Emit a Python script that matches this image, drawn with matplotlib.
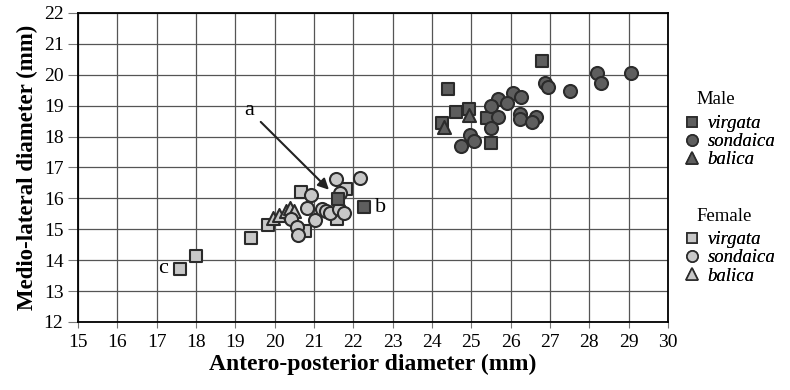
import matplotlib
matplotlib.use("Agg")
import matplotlib.pyplot as plt
from matplotlib.lines import Line2D

plt.rcParams["font.family"] = ["Liberation Serif", "DejaVu Serif"]

# Male specimens
male_virgata_x = [26.8, 24.4, 24.6, 24.95, 24.25, 25.4, 25.5, 21.6, 22.28]
male_virgata_y = [20.45, 19.55, 18.8, 18.9, 18.45, 18.6, 17.8, 15.97, 15.73]
male_sondaica_x = [28.2, 29.07, 28.29, 26.88, 26.95, 27.5, 26.07, 26.27, 25.67, 25.9,
                   25.5, 25.69, 26.24, 26.24, 26.65, 26.55, 25.5, 24.96, 25.08, 24.74]
male_sondaica_y = [20.05, 20.05, 19.73, 19.75, 19.61, 19.46, 19.41, 19.28, 19.21, 19.08,
                   19.0, 18.63, 18.73, 18.58, 18.62, 18.47, 18.28, 18.04, 17.85, 17.71]
male_balica_x = [24.95, 24.3]
male_balica_y = [18.7, 18.3]

# Female specimens
female_virgata_x = [17.6, 18.0, 19.4, 19.83, 20.68, 20.76, 21.58, 21.81]
female_virgata_y = [13.73, 14.13, 14.71, 15.13, 16.2, 14.95, 15.32, 16.31]
female_sondaica_x = [20.92, 20.81, 20.41, 20.56, 20.59, 21.02, 21.21, 21.3, 21.41,
                     21.55, 21.65, 21.64, 21.76, 22.17]
female_sondaica_y = [16.1, 15.7, 15.32, 15.07, 14.8, 15.29, 15.66, 15.6, 15.53,
                     16.63, 16.18, 15.66, 15.54, 16.66]
female_balica_x = [19.95, 20.1, 20.3, 20.4, 20.5]
female_balica_y = [15.35, 15.45, 15.6, 15.7, 15.6]

dark = "#5e5e5e"
light = "#c8c8c8"
edge = "#2b2b2b"

fig = plt.figure(figsize=(7.9, 3.9), dpi=100)
ax = fig.add_axes([0.0987, 0.1744, 0.7469, 0.7923])

ax.set_xlim(15, 30)
ax.set_ylim(12, 22)
ax.set_xticks(range(15, 31))
ax.set_yticks(range(12, 23))
ax.grid(True, color="#555555", linewidth=0.9)
ax.set_axisbelow(True)
ax.tick_params(labelsize=14, direction="out", length=7, color="#777777")
ax.tick_params(axis="x", length=4, pad=5)
for s in ax.spines.values():
    s.set_linewidth(1.3)

ms = 80
ax.scatter(female_virgata_x, female_virgata_y, marker="s", s=ms * 0.85, c=light, edgecolors=edge, linewidths=1.5, zorder=3)
ax.scatter(female_balica_x, female_balica_y, marker="^", s=ms * 1.1, c=light, edgecolors=edge, linewidths=1.5, zorder=3)
ax.scatter(female_sondaica_x, female_sondaica_y, marker="o", s=ms * 1.1, c=light, edgecolors=edge, linewidths=1.5, zorder=3)
ax.scatter(male_virgata_x, male_virgata_y, marker="s", s=ms * 0.85, c=dark, edgecolors=edge, linewidths=1.5, zorder=3)
ax.scatter(male_balica_x, male_balica_y, marker="^", s=ms * 1.1, c=dark, edgecolors=edge, linewidths=1.5, zorder=3)
ax.scatter(male_sondaica_x, male_sondaica_y, marker="o", s=ms * 1.1, c=dark, edgecolors=edge, linewidths=1.5, zorder=3)

ax.annotate("a", xy=(21.38, 16.28), xytext=(19.35, 18.85), fontsize=16, ha="center", va="center",
            arrowprops=dict(arrowstyle="-|>", color="#222222", lw=1.5, mutation_scale=16,
                            shrinkA=4, shrinkB=0))
ax.text(22.55, 15.72, "b", fontsize=16, ha="left", va="center")
ax.text(17.3, 13.73, "c", fontsize=16, ha="right", va="center")

ax.set_xlabel("Antero-posterior diameter (mm)", fontsize=17, fontweight="bold", labelpad=2)
ax.set_ylabel("Medio-lateral diameter (mm)", fontsize=16.5, fontweight="bold", labelpad=4)


def handles(color):
    kw = dict(linestyle="none", markerfacecolor=color, markeredgecolor=edge, markeredgewidth=1.2)
    return [Line2D([], [], marker="s", markersize=7, **kw),
            Line2D([], [], marker="o", markersize=8, **kw),
            Line2D([], [], marker="^", markersize=8.5, **kw)]


names = ["virgata", "sondaica", "balica"]
for title, color, ytitle, ytop in [("Male", dark, 0.744, 0.705), ("Female", light, 0.444, 0.407)]:
    fig.text(0.882, ytitle, title, fontsize=13.5, ha="left", va="center")
    leg = fig.legend(handles(color), names, loc="upper left",
                     bbox_to_anchor=(0.866, ytop), frameon=False,
                     prop={"style": "italic", "size": 13.5},
                     handlelength=0.8, handletextpad=0.45, labelspacing=0.05,
                     borderaxespad=0, borderpad=0)
    fig.add_artist(leg)

fig.savefig("out.png", dpi=100)
